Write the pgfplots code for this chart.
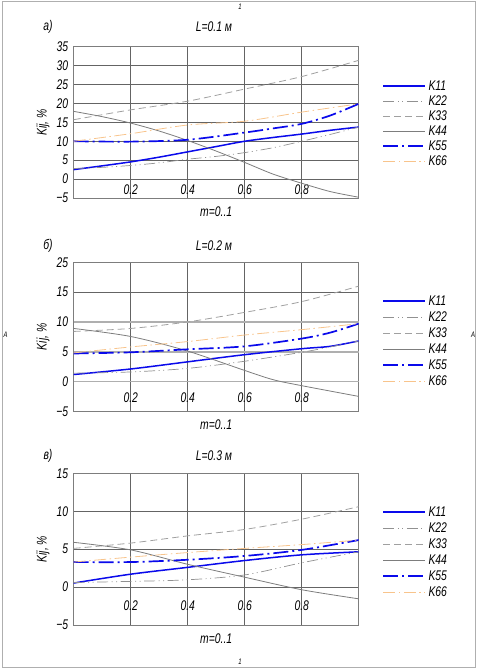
\documentclass[border=0pt]{standalone}
\usepackage{fontspec}
\setmainfont{Liberation Sans Italic}[FakeStretch=0.74]
\usepackage{pgfplots}
\pgfplotsset{compat=1.18}
\definecolor{kblue}{RGB}{10,10,235}
\definecolor{kgray}{RGB}{125,125,125}
\definecolor{kgraytwo}{RGB}{145,145,145}
\definecolor{kgraythree}{RGB}{160,160,160}
\definecolor{korange}{RGB}{248,196,140}
\definecolor{kgrid}{RGB}{100,100,100}
\definecolor{kgridlight}{RGB}{175,175,175}
\definecolor{kframe}{RGB}{175,175,175}
\tikzset{
  kOne/.style={draw=kblue, line width=1.5pt, solid},
  kTwo/.style={draw=kgraytwo, line width=0.7pt, dash pattern=on 11pt off 3.5pt on 1pt off 3.5pt on 1pt off 3.5pt},
  kThree/.style={draw=kgraythree, line width=0.8pt, dash pattern=on 7pt off 4pt},
  kFour/.style={draw=kgray, line width=0.8pt, solid},
  kFive/.style={draw=kblue, line width=1.7pt, dash pattern=on 15pt off 4pt on 2pt off 4pt},
  kSix/.style={draw=korange, line width=0.8pt, dash pattern=on 12pt off 3.5pt on 1.5pt off 3.5pt},
  legtxt/.style={anchor=west, inner sep=0pt},
}
\newcommand{\kleg}[3]{% #1 = x of line start, #2 = y of first row, #3 = row pitch
  \draw[kOne]   (#1,#2) -- ++(41.7pt,0pt);
  \draw[kTwo]   (#1,#2-#3) -- ++(41.7pt,0pt);
  \draw[kThree] (#1,#2-2*#3) -- ++(41.7pt,0pt);
  \draw[kFour]  (#1,#2-3*#3) -- ++(41.7pt,0pt);
  \draw[kFive]  (#1,#2-4*#3) -- ++(41.7pt,0pt);
  \draw[kSix]   (#1,#2-5*#3) -- ++(41.7pt,0pt);
  \node[legtxt] at (#1+45pt,#2) {K11};
  \node[legtxt] at (#1+45pt,#2-#3) {K22};
  \node[legtxt] at (#1+45pt,#2-2*#3) {K33};
  \node[legtxt] at (#1+45pt,#2-3*#3) {K44};
  \node[legtxt] at (#1+45pt,#2-4*#3) {K55};
  \node[legtxt] at (#1+45pt,#2-5*#3) {K66};
}
\pgfplotsset{
  kax/.style={
    scale only axis, width=285pt,
    xmin=0, xmax=1,
    xtick={0.2,0.4,0.6,0.8}, xticklabels={0.2,0.4,0.6,0.8},
    grid=major, major grid style={kgrid, line width=0.6pt},
    axis line style={kgray, line width=0.8pt},
    major tick length=0pt,
    tick label style={font=\fontsize{14}{16}\selectfont},
    yticklabel style={xshift=-2pt},
    label style={font=\fontsize{14}{16}\selectfont},
    xlabel={m=0..1}, ylabel={Kij, \%},
    xlabel style={at={(axis description cs:0.5,-0.088)}, anchor=center},
    ylabel style={at={(axis description cs:-0.108,0.5)}, anchor=center},
  }
}
\begin{document}
\begin{tikzpicture}[font=\fontsize{14}{16}\selectfont]
\useasboundingbox (0,0) rectangle (480pt,669pt);
\draw[kframe, line width=0.9pt] (2.3pt,1.7pt) rectangle (475.5pt,668pt);
\node[font=\fontsize{8}{9}\selectfont, inner sep=0pt] at (240pt,662pt) {1};
\node[font=\fontsize{8}{9}\selectfont, inner sep=0pt] at (240pt,7pt) {1};
\node[font=\fontsize{8}{9}\selectfont, inner sep=0pt] at (5.5pt,334pt) {А};
\node[font=\fontsize{8}{9}\selectfont, inner sep=0pt] at (473pt,334pt) {А};
\node[inner sep=0pt] at (48pt,642.3pt) {а)};
\node[inner sep=0pt] at (214pt,642.3pt) {L=0.1 м};
\node[inner sep=0pt] at (48pt,423.3pt) {б)};
\node[inner sep=0pt] at (214pt,423.3pt) {L=0.2 м};
\node[inner sep=0pt] at (48pt,213.3pt) {в)};
\node[inner sep=0pt] at (214pt,213.3pt) {L=0.3 м};

% ---------- panel a ----------
\begin{axis}[kax, at={(73.7pt,471pt)}, anchor=south west, height=151.3pt,
  ymin=-5, ymax=35, ytick={-5,0,5,10,15,20,25,30,35},
  yticklabels={−5,0,5,10,15,20,25,30,35},
  xticklabel style={anchor=center, yshift=8pt}]
\addplot[kOne, smooth] coordinates {(0,2.5)(0.1,3.5)(0.2,4.55)(0.3,5.8)(0.4,7.2)(0.5,8.6)(0.6,10.0)(0.7,11.0)(0.8,11.9)(0.9,12.9)(1,13.75)};
\addplot[kTwo, smooth] coordinates {(0,2.8)(0.1,3.1)(0.2,3.6)(0.3,4.3)(0.4,5.25)(0.5,6.0)(0.6,7.0)(0.7,8.3)(0.8,10.0)(0.9,11.8)(1,13.75)};
\addplot[kThree, smooth] coordinates {(0,15.7)(0.2,18.3)(0.4,20.6)(0.6,23.8)(0.8,27.1)(1,31.4)};
\addplot[kFour, smooth] coordinates {(0,17.9)(0.1,16.5)(0.2,14.8)(0.3,12.7)(0.4,10.2)(0.5,7.4)(0.6,4.4)(0.7,1.3)(0.8,-1.1)(0.9,-3.3)(1,-4.8)};
\addplot[kFive, smooth] coordinates {(0,10.0)(0.2,9.9)(0.4,10.4)(0.6,12.3)(0.7,13.4)(0.8,14.6)(0.9,16.8)(1,19.9)};
\addplot[kSix, smooth] coordinates {(0,10.0)(0.2,12.0)(0.4,14.3)(0.6,15.3)(0.8,17.7)(1,19.9)};
\end{axis}
\kleg{383.3pt}{583pt}{15pt}

% ---------- panel b ----------
\begin{axis}[kax, at={(73.7pt,257.7pt)}, anchor=south west, height=149pt,
  ymin=-5, ymax=20, ytick={-5,15,20},
  yticklabels={−5,15,25},
  extra y ticks={0,5,10}, extra y tick labels={0,5,10},
  extra y tick style={grid=major, major grid style={kgridlight, line width=1.7pt}},
  xticklabel style={anchor=center, yshift=14pt}]
\addplot[kOne, smooth] coordinates {(0,1.17)(0.2,2.1)(0.4,3.3)(0.6,4.5)(0.8,5.5)(0.9,5.9)(1,6.8)};
\addplot[kTwo, smooth] coordinates {(0,1.4)(0.2,1.6)(0.4,2.2)(0.6,3.4)(0.8,4.9)(0.9,5.8)(1,6.8)};
\addplot[kThree, smooth] coordinates {(0,8.4)(0.2,8.9)(0.4,10.0)(0.6,11.6)(0.8,13.4)(1,16.0)};
\addplot[kFour, smooth] coordinates {(0,8.9)(0.2,7.55)(0.4,5.1)(0.6,1.85)(0.7,0.3)(0.8,-0.7)(1,-2.5)};
\addplot[kFive, smooth] coordinates {(0,4.7)(0.2,4.9)(0.4,5.4)(0.6,5.9)(0.8,7.2)(0.9,8.2)(1,9.7)};
\addplot[kSix, smooth] coordinates {(0,4.8)(0.2,5.8)(0.4,6.7)(0.6,7.8)(0.8,8.7)(1,9.7)};
\end{axis}
\kleg{383.3pt}{368pt}{16pt}

% ---------- panel c ----------
\begin{axis}[kax, at={(73.7pt,44pt)}, anchor=south west, height=151.7pt,
  ymin=-5, ymax=15, ytick={-5,0,5,10,15},
  yticklabels={−5,0,5,10,15},
  xticklabel style={anchor=center, yshift=19pt}]
\addplot[kOne, smooth] coordinates {(0,0.53)(0.2,1.7)(0.4,2.6)(0.6,3.5)(0.8,4.25)(1,4.65)};
\addplot[kTwo, smooth] coordinates {(0,0.6)(0.2,0.75)(0.4,0.96)(0.6,1.6)(0.8,3.2)(1,4.65)};
\addplot[kThree, smooth] coordinates {(0,5.1)(0.2,5.8)(0.4,6.75)(0.6,7.6)(0.8,8.95)(1,10.6)};
\addplot[kFour, smooth] coordinates {(0,5.9)(0.2,4.9)(0.4,3.0)(0.6,1.3)(0.8,-0.35)(1,-1.55)};
\addplot[kFive, smooth] coordinates {(0,3.3)(0.2,3.3)(0.4,3.6)(0.6,4.1)(0.8,4.9)(1,6.2)};
\addplot[kSix, smooth] coordinates {(0,3.3)(0.2,3.95)(0.4,4.55)(0.6,5.1)(0.8,5.6)(1,6.2)};
\end{axis}
\kleg{383.3pt}{157pt}{16pt}
\end{tikzpicture}
\end{document}
